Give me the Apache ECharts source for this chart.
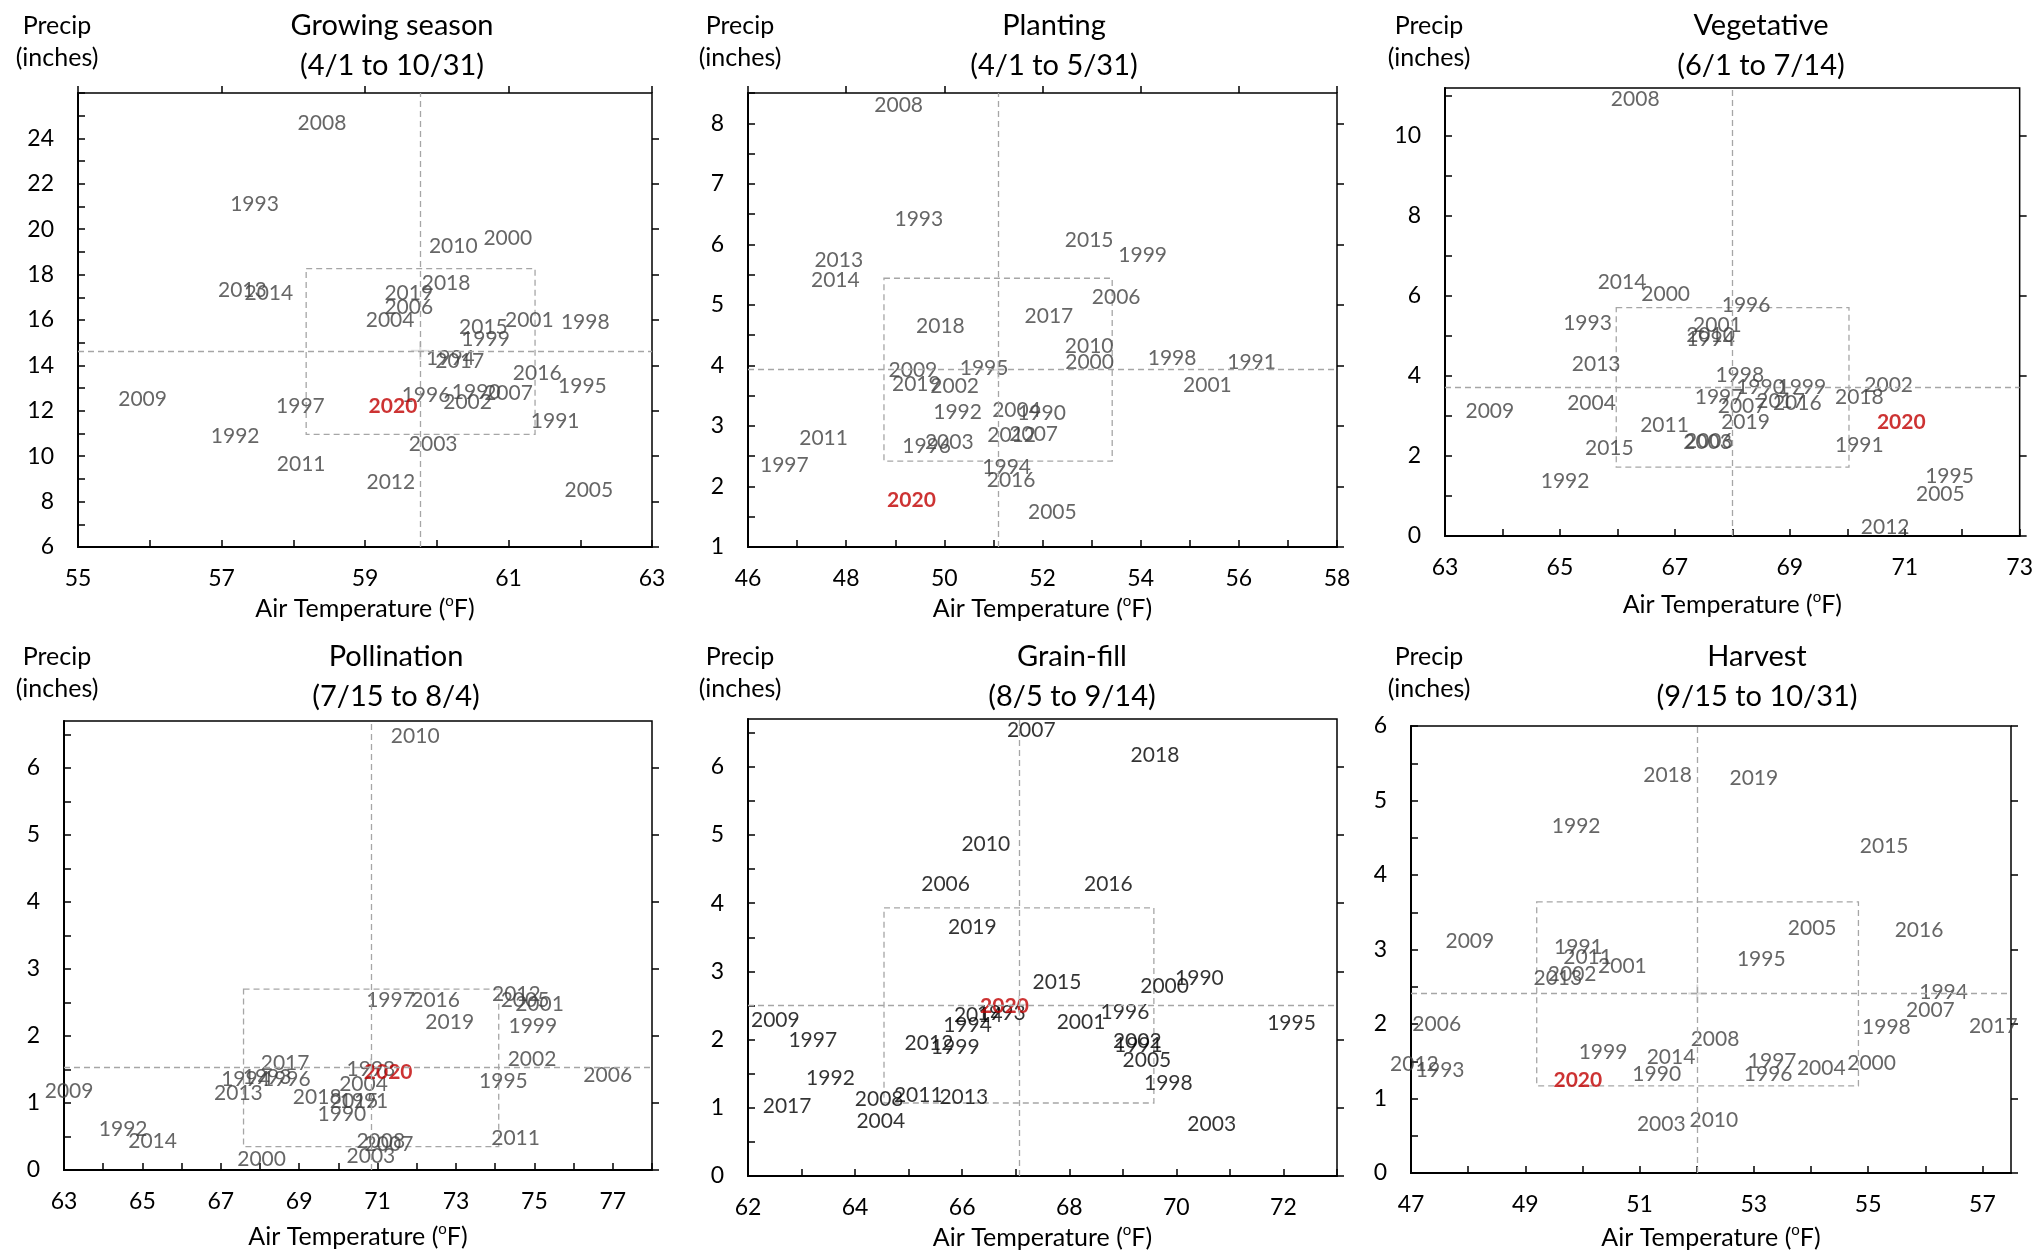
<!DOCTYPE html>
<html>
<head>
<meta charset="utf-8">
<script src="https://cdn.jsdelivr.net/npm/echarts@6/dist/echarts.min.js"></script>
<style>
    html, body {margin: 0; padding: 0; background: #fff;}
    #main {width: 2036px; height: 1254px;}
</style>
</head>
<body>
<div id="main"></div>
<script>
// years, same order for every panel
var years = [1990, 1991, 1992, 1993, 1994, 1995, 1996, 1997, 1998, 1999,
    2000, 2001, 2002, 2003, 2004, 2005, 2006, 2007, 2008, 2009,
    2010, 2011, 2012, 2013, 2014, 2015, 2016, 2017, 2018, 2019, 2020];

// Growing season (4/1 to 10/31)
var gsTemp = [60.55, 61.65, 57.19, 57.46, 60.19, 62.03, 59.85, 58.10, 62.07, 60.68,
    60.99, 61.29, 60.43, 59.95, 59.35, 62.12, 59.61, 61.00, 58.40, 55.90,
    60.23, 58.11, 59.36, 57.29, 57.66, 60.65, 61.40, 60.32, 60.13, 59.61, 59.39];
var gsPrecip = [12.81, 11.55, 10.86, 21.09, 14.32, 13.07, 12.68, 12.21, 15.90, 15.16,
    19.61, 15.97, 12.38, 10.53, 15.97, 8.48, 16.58, 12.76, 24.69, 12.50,
    19.23, 9.66, 8.86, 17.29, 17.18, 15.66, 13.65, 14.17, 17.64, 17.20, 12.21];
var gsMean = [59.77, 14.64];
var gsBoxTemp = [58.18, 61.37];
var gsBoxPrecip = [10.96, 18.26];
var gsXTicks = [55, 57, 59, 61, 63];
var gsYTicks = [6, 8, 10, 12, 14, 16, 18, 20, 22, 24];

// Planting (4/1 to 5/31)
var plTemp = [51.98, 56.26, 50.27, 49.48, 51.27, 50.81, 49.64, 46.74, 54.64, 54.04,
    52.96, 55.36, 50.21, 50.10, 51.47, 52.20, 53.50, 51.82, 49.07, 49.36,
    52.95, 47.54, 51.37, 47.85, 47.78, 52.95, 51.36, 52.13, 49.92, 49.43, 49.33];
var plPrecip = [3.21, 4.06, 3.22, 6.41, 2.31, 3.95, 2.67, 2.35, 4.12, 5.82,
    4.05, 3.67, 3.65, 2.73, 3.26, 1.58, 5.12, 2.86, 8.29, 3.92,
    4.32, 2.80, 2.85, 5.73, 5.40, 6.07, 2.10, 4.82, 4.64, 3.69, 1.77];
var plMean = [51.10, 3.93];
var plBoxTemp = [48.77, 53.42];
var plBoxPrecip = [2.42, 5.44];
var plXTicks = [46, 48, 50, 52, 54, 56, 58];
var plYTicks = [1, 2, 3, 4, 5, 6, 7, 8];

// Vegetative (6/1 to 7/14)
var vgTemp = [68.49, 70.21, 65.09, 65.48, 67.62, 71.78, 68.24, 67.77, 68.13, 69.21,
    66.84, 67.74, 70.72, 67.57, 65.55, 71.62, 67.60, 68.17, 66.31, 63.78,
    67.62, 66.82, 70.66, 65.63, 66.08, 65.86, 69.13, 68.84, 70.21, 68.23, 70.94];
var vgPrecip = [3.71, 2.28, 1.37, 5.33, 4.93, 1.50, 5.76, 3.47, 4.03, 3.73,
    6.05, 5.27, 3.76, 2.35, 3.33, 1.05, 2.37, 3.25, 10.93, 3.12,
    5.03, 2.78, 0.22, 4.30, 6.34, 2.19, 3.32, 3.38, 3.46, 2.85, 2.84];
var vgMean = [68.0, 3.71];
var vgBoxTemp = [65.98, 70.03];
var vgBoxPrecip = [1.72, 5.71];
var vgXTicks = [63, 65, 67, 69, 71, 73];
var vgYTicks = [0, 2, 4, 6, 8, 10];

// Pollination (7/15 to 8/4)
var poTemp = [70.09, 70.65, 64.51, 68.18, 67.63, 74.21, 68.67, 71.33, 70.83, 74.96,
    68.04, 75.13, 74.94, 70.83, 70.64, 74.76, 76.87, 71.29, 71.08, 63.13,
    71.96, 74.52, 74.54, 67.45, 65.26, 70.40, 72.48, 68.64, 69.46, 72.84, 71.27];
var poPrecip = [0.83, 1.02, 0.61, 1.38, 1.36, 1.32, 1.35, 2.54, 1.51, 2.15,
    0.16, 2.47, 1.66, 0.21, 1.28, 2.54, 1.41, 0.39, 0.43, 1.18,
    6.47, 0.47, 2.62, 1.14, 0.43, 1.03, 2.53, 1.60, 1.08, 2.21, 1.46];
var poMean = [70.83, 1.53];
var poBoxTemp = [67.58, 74.09];
var poBoxPrecip = [0.35, 2.70];
var poXTicks = [63, 65, 67, 69, 71, 73, 75, 77];
var poYTicks = [0, 1, 2, 3, 4, 5, 6];

// Grain-fill (8/5 to 9/14)
var gfTemp = [70.43, 69.29, 63.54, 66.73, 66.10, 72.15, 69.04, 63.21, 69.85, 65.87,
    69.78, 68.22, 69.27, 70.66, 64.48, 69.45, 65.69, 67.29, 64.45, 62.51,
    66.44, 65.18, 65.38, 66.03, 66.30, 67.77, 68.73, 62.73, 69.60, 66.19, 66.79];
var gfPrecip = [2.90, 1.91, 1.44, 2.39, 2.21, 2.24, 2.40, 1.99, 1.36, 1.89,
    2.78, 2.25, 1.97, 0.76, 0.81, 1.69, 4.28, 6.53, 1.13, 2.29,
    4.86, 1.19, 1.95, 1.16, 2.35, 2.84, 4.28, 1.02, 6.17, 3.65, 2.49];
var gfMean = [67.06, 2.51];
var gfBoxTemp = [64.54, 69.58];
var gfBoxPrecip = [1.07, 3.93];
var gfXTicks = [62, 64, 66, 68, 70, 72];
var gfYTicks = [0, 1, 2, 3, 4, 5, 6];

// Harvest (9/15 to 10/31)
var hvTemp = [51.30, 49.93, 49.89, 47.51, 56.32, 53.13, 53.25, 53.32, 55.32, 50.36,
    55.06, 50.70, 49.82, 51.38, 54.18, 54.02, 47.45, 56.09, 52.32, 48.03,
    52.30, 50.09, 47.06, 49.57, 51.55, 55.28, 55.89, 57.19, 51.49, 53.00, 49.92];
var hvPrecip = [1.32, 3.03, 4.65, 1.38, 2.43, 2.87, 1.33, 1.50, 1.96, 1.62,
    1.48, 2.77, 2.67, 0.66, 1.41, 3.28, 2.00, 2.19, 1.79, 3.11,
    0.71, 2.89, 1.46, 2.62, 1.55, 4.38, 3.26, 1.97, 5.34, 5.30, 1.24];
var hvMean = [52.01, 2.41];
var hvBoxTemp = [49.20, 54.83];
var hvBoxPrecip = [1.17, 3.64];
var hvXTicks = [47, 49, 51, 53, 55, 57];
var hvYTicks = [0, 1, 2, 3, 4, 5, 6];

var font = 'Lato, "Noto Sans", sans-serif';

var panels = [
    {name: 'Growing season', period: '(4/1 to 10/31)', temp: gsTemp, precip: gsPrecip, mean: gsMean,
        boxT: gsBoxTemp, boxP: gsBoxPrecip, xTicks: gsXTicks, yTicks: gsYTicks,
        xMin: 55, xMax: 63, xMinor: 1, yMin: 6, yMax: 26, yMinor: 1, labelColor: '#404040'},
    {name: 'Planting', period: '(4/1 to 5/31)', temp: plTemp, precip: plPrecip, mean: plMean,
        boxT: plBoxTemp, boxP: plBoxPrecip, xTicks: plXTicks, yTicks: plYTicks,
        xMin: 46, xMax: 58, xMinor: 1, yMin: 1, yMax: 8.5, yMinor: 0.5, labelColor: '#404040'},
    {name: 'Vegetative', period: '(6/1 to 7/14)', temp: vgTemp, precip: vgPrecip, mean: vgMean,
        boxT: vgBoxTemp, boxP: vgBoxPrecip, xTicks: vgXTicks, yTicks: vgYTicks,
        xMin: 63, xMax: 73, xMinor: 1, yMin: 0, yMax: 11.2, yMinor: 1, labelColor: '#404040'},
    {name: 'Pollination', period: '(7/15 to 8/4)', temp: poTemp, precip: poPrecip, mean: poMean,
        boxT: poBoxTemp, boxP: poBoxPrecip, xTicks: poXTicks, yTicks: poYTicks,
        xMin: 63, xMax: 78, xMinor: 1, yMin: 0, yMax: 6.7, yMinor: 0.5, labelColor: '#404040'},
    {name: 'Grain-fill', period: '(8/5 to 9/14)', temp: gfTemp, precip: gfPrecip, mean: gfMean,
        boxT: gfBoxTemp, boxP: gfBoxPrecip, xTicks: gfXTicks, yTicks: gfYTicks,
        xMin: 62, xMax: 73, xMinor: 1, yMin: 0, yMax: 6.7, yMinor: 0.5, labelColor: '#000'},
    {name: 'Harvest', period: '(9/15 to 10/31)', temp: hvTemp, precip: hvPrecip, mean: hvMean,
        boxT: hvBoxTemp, boxP: hvBoxPrecip, xTicks: hvXTicks, yTicks: hvYTicks,
        xMin: 47, xMax: 57.5, xMinor: 1, yMin: 0, yMax: 6, yMinor: 0.5, labelColor: '#404040'}
];

// where each panel sits on the page
var layout = [
    {left: 78, right: 1384, top: 93, bottom: 707, tx: 387, ty: 1, px: 52, py: 5, nameGap: 47},
    {left: 748, right: 699, top: 93, bottom: 707, tx: 1049, ty: 1, px: 735, py: 5, nameGap: 47},
    {left: 1445, right: 14, top: 88, bottom: 718, tx: 1756, ty: 1, px: 1424, py: 5, nameGap: 54},
    {left: 64, right: 1384, top: 721, bottom: 84, tx: 391, ty: 632, px: 52, py: 636, nameGap: 52},
    {left: 748, right: 699, top: 719, bottom: 75, tx: 1067, ty: 632, px: 735, py: 636, nameGap: 47},
    {left: 1411, right: 25, top: 726, bottom: 75, tx: 1752, ty: 632, px: 1424, py: 636, nameGap: 50}
];

function steps(min, max, step) {
    var out = [];
    for (var v = min; v <= max + 1e-9; v += step) {
        out.push(Math.round(v * 100) / 100);
    }
    return out;
}

var tickStyle = {color: '#000', width: 1.5};
var dashStyle = {type: [6, 4], color: '#a6a6a6', width: 1.3};

var option = {
    animation: false,
    backgroundColor: '#fff',
    title: [],
    grid: [],
    xAxis: [],
    yAxis: [],
    series: []
};

panels.forEach(function (p, k) {
    var L = layout[k];
    option.title.push({
        text: p.name + '\n' + p.period,
        left: L.tx, top: L.ty, textAlign: 'center',
        textStyle: {fontFamily: font, fontSize: 29, fontWeight: 'normal', color: '#000', lineHeight: 40}
    });
    option.title.push({
        text: 'Precip\n(inches)',
        left: L.px, top: L.py, textAlign: 'center',
        textStyle: {fontFamily: font, fontSize: 25, fontWeight: 'normal', color: '#000', lineHeight: 32}
    });
    option.grid.push({
        left: L.left, right: L.right, top: L.top, bottom: L.bottom,
        show: true, borderColor: '#000', borderWidth: 1.5, backgroundColor: 'transparent'
    });

    // main axes: minor ticks inside + labels
    option.xAxis.push({
        type: 'value', gridIndex: k, min: p.xMin, max: p.xMax,
        name: 'Air Temperature ({s|o}F)', nameLocation: 'middle', nameGap: L.nameGap,
        nameTextStyle: {
            fontFamily: font, fontSize: 25, color: '#000', lineHeight: 30,
            rich: {s: {fontFamily: font, fontSize: 15, lineHeight: 16, verticalAlign: 'top', color: '#000'}}
        },
        axisLine: {show: true, onZero: false, lineStyle: {color: '#000', width: 2}},
        axisTick: {show: true, inside: true, length: 7, customValues: steps(p.xMin, p.xMax, p.xMinor), lineStyle: tickStyle},
        axisLabel: {customValues: p.xTicks, margin: 20, fontFamily: font, fontSize: 23, color: '#000'},
        splitLine: {show: false}
    });
    // overlay axes: the outer half of the major ticks
    option.xAxis.push({
        type: 'value', gridIndex: k, min: p.xMin, max: p.xMax,
        axisLine: {show: false},
        axisTick: {show: true, inside: false, length: 7, customValues: p.xTicks, lineStyle: tickStyle},
        axisLabel: {show: false},
        splitLine: {show: false}
    });
    option.yAxis.push({
        type: 'value', gridIndex: k, min: p.yMin, max: p.yMax,
        axisLine: {show: true, onZero: false, lineStyle: {color: '#000', width: 2}},
        axisTick: {show: true, inside: true, length: 7, customValues: steps(p.yMin, p.yMax, p.yMinor), lineStyle: tickStyle},
        axisLabel: {customValues: p.yTicks, margin: 24, fontFamily: font, fontSize: 23, color: '#000'},
        splitLine: {show: false}
    });
    option.yAxis.push({
        type: 'value', gridIndex: k, min: p.yMin, max: p.yMax,
        axisLine: {show: false},
        axisTick: {show: true, inside: false, length: 7, customValues: p.yTicks, lineStyle: tickStyle},
        axisLabel: {show: false},
        splitLine: {show: false}
    });

    var data = years.map(function (y, i) {
        var item = {name: String(y), value: [p.temp[i], p.precip[i]]};
        if (y === 2020) {
            item.label = {color: '#c00000', fontWeight: 'bold'};
        }
        return item;
    });

    // mean cross marker
    option.series.push({
        type: 'scatter', xAxisIndex: 2 * k, yAxisIndex: 2 * k, silent: true,
        data: [p.mean],
        symbol: 'path://M0,9L18,9M9,0L9,18', symbolSize: 18,
        itemStyle: {color: 'transparent', borderColor: '#d4d4d4', borderWidth: 2},
        z: 1
    });

    option.series.push({
        type: 'scatter', xAxisIndex: 2 * k, yAxisIndex: 2 * k,
        symbolSize: 1,
        itemStyle: {color: 'transparent'},
        label: {
            show: true, position: 'inside', formatter: '{b}',
            fontFamily: font, fontSize: 21, color: p.labelColor
        },
        data: data,
        markLine: {
            silent: true, symbol: ['none', 'none'], label: {show: false},
            lineStyle: dashStyle,
            data: [{xAxis: p.mean[0]}, {yAxis: p.mean[1]}]
        },
        markArea: {
            silent: true, label: {show: false},
            itemStyle: {color: 'rgba(0,0,0,0)', borderColor: '#a6a6a6', borderWidth: 1.3, borderType: [6, 4]},
            data: [[{coord: [p.boxT[0], p.boxP[1]]}, {coord: [p.boxT[1], p.boxP[0]]}]]
        },
        z: 3
    });
});

var myChart = echarts.init(document.getElementById('main'));
myChart.setOption(option);
</script>
</body>
</html>
